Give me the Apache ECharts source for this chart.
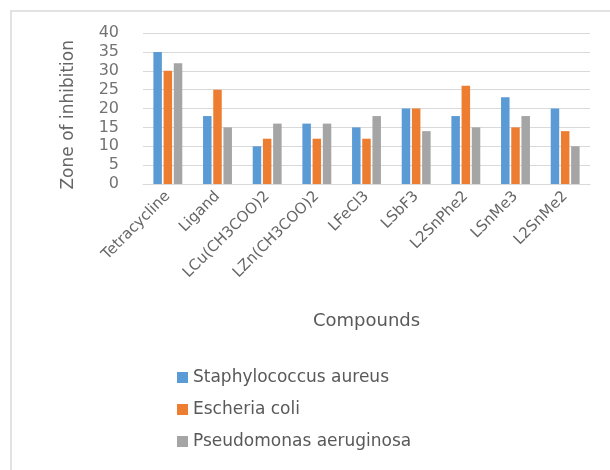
<!DOCTYPE html>
<html>
<head>
<meta charset="utf-8">
<script src="https://cdn.jsdelivr.net/npm/echarts@6/dist/echarts.min.js"></script>
<style>
  html, body { margin: 0; padding: 0; background: #fff; }
  #chart { width: 610px; height: 470px; }
</style>
</head>
<body>
<div id="chart"></div>
<script>
// data
const compounds = ['Tetracycline', 'Ligand', 'LCu(CH3COO)2', 'LZn(CH3COO)2', 'LFeCl3', 'LSbF3', 'L2SnPhe2', 'LSnMe3', 'L2SnMe2'];
const staphAureus = [35, 18, 10, 16, 15, 20, 18, 23, 20];
const eColi = [30, 25, 12, 12, 12, 20, 26, 15, 14];
const pseudomonas = [32, 15, 16, 16, 18, 14, 15, 18, 10];
const seriesNames = ['Staphylococcus aureus', 'Escheria coli', 'Pseudomonas aeruginosa'];

const chart = echarts.init(document.getElementById('chart'));
const fontFam = '"DejaVu Sans", sans-serif';

const mkBar = (name, data, color) => ({
  name: name,
  type: 'bar',
  data: data,
  barWidth: 8.5,
  barGap: '20%',
  itemStyle: { color: color }
});

chart.setOption({
  animation: false,
  textStyle: { fontFamily: fontFam },
  graphic: [{
    type: 'rect',
    shape: { x: 11, y: 11, width: 620, height: 480 },
    style: { fill: 'none', stroke: '#d9d9d9', lineWidth: 1.5 },
    silent: true
  }, {
    type: 'text',
    left: 60,
    top: 40,
    rotation: Math.PI / 2,
    style: { text: 'Zone of inhibition', fill: '#666666', font: '17px "DejaVu Sans", sans-serif' }
  }],
  grid: { left: 143, right: 20, top: 33, height: 151 },
  xAxis: {
    type: 'category',
    data: compounds,
    name: 'Compounds',
    nameLocation: 'middle',
    nameGap: 128,
    nameTextStyle: { color: '#595959', fontSize: 18 },
    axisLine: { lineStyle: { color: '#d9d9d9' } },
    axisTick: { show: false },
    axisLabel: { rotate: 45, color: '#666666', fontSize: 15, margin: 10, interval: 0 }
  },
  yAxis: {
    type: 'value',
    min: 0,
    max: 40,
    interval: 5,
    axisLine: { show: false },
    axisTick: { show: false },
    axisLabel: { color: '#737373', fontSize: 16, margin: 24 },
    splitLine: { lineStyle: { color: '#d9d9d9' } }
  },
  legend: {
    orient: 'vertical',
    left: 172,
    top: 364,
    itemWidth: 11,
    itemHeight: 11,
    itemGap: 15,
    icon: 'rect',
    textStyle: { color: '#595959', fontSize: 17 },
    data: seriesNames
  },
  series: [
    mkBar(seriesNames[0], staphAureus, '#5b9bd5'),
    mkBar(seriesNames[1], eColi, '#ed7d31'),
    mkBar(seriesNames[2], pseudomonas, '#a5a5a5')
  ]
});
</script>
</body>
</html>
